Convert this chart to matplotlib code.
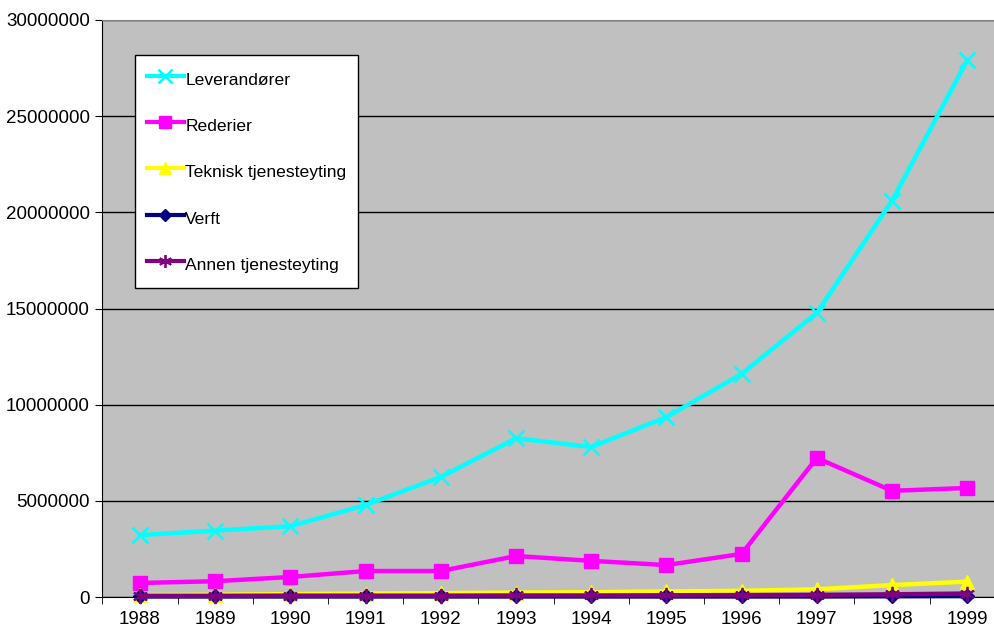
import matplotlib.pyplot as plt
from matplotlib.ticker import FixedLocator, NullFormatter
from matplotlib.lines import Line2D

plt.rcParams['font.family'] = ['Liberation Sans', 'DejaVu Sans']

years = [1988, 1989, 1990, 1991, 1992, 1993, 1994, 1995, 1996, 1997, 1998, 1999]

leverandorer = [3220000, 3450000, 3680000, 4780000, 6240000, 8250000,
                7800000, 9350000, 11600000, 14770000, 20600000, 27900000]
rederier = [730000, 820000, 1040000, 1350000, 1350000, 2130000,
            1880000, 1660000, 2240000, 7230000, 5520000, 5670000]
teknisk = [100000, 120000, 150000, 180000, 200000, 230000,
           250000, 290000, 320000, 400000, 620000, 800000]
verft = [30000, 30000, 30000, 30000, 30000, 30000,
         30000, 30000, 30000, 30000, 40000, 50000]
annen = [60000, 60000, 70000, 70000, 70000, 80000,
         80000, 90000, 100000, 110000, 140000, 180000]

series = [
    ("Leverandører", leverandorer, "#00FFFF", "x", 12, 1.8),
    ("Rederier", rederier, "#FF00FF", "s", 10, 1.0),
    ("Teknisk tjenesteyting", teknisk, "#FFFF00", "^", 10, 1.0),
    ("Verft", verft, "#000080", "D", 7, 1.0),
    ("Annen tjenesteyting", annen, "#800080", (6, 2, 0), 11, 1.3),
]

fig = plt.figure(figsize=(9.95, 6.32), dpi=100)
ax = fig.add_axes([102.4 / 995, 35 / 632, 902.4 / 995, 577 / 632])
ax.set_facecolor("#C0C0C0")

x = list(range(len(years)))
handles = []
for name, vals, color, marker, ms, mew in series:
    ax.plot(x, vals, color=color, lw=3.2, marker=marker, ms=ms,
            mec=color, mfc=color, mew=mew, clip_on=False, zorder=3)
    handles.append(Line2D([0], [0], color=color, lw=3.0, marker=marker,
                          ms=ms * 0.85, mec=color, mfc=color, mew=mew))

ax.set_xlim(-0.5, len(years) - 0.5)
ax.set_ylim(0, 30000000)
ax.set_yticks(range(0, 30000001, 5000000))
ax.set_yticklabels([str(v) for v in range(0, 30000001, 5000000)])
ax.yaxis.grid(True, color="black", lw=1)
ax.set_axisbelow(True)

ax.set_xticks(x)
ax.set_xticklabels([str(y) for y in years])
ax.xaxis.set_minor_locator(FixedLocator([i - 0.5 for i in range(len(years) + 1)]))
ax.xaxis.set_minor_formatter(NullFormatter())
ax.tick_params(axis="x", which="major", length=0, pad=10, labelsize=13.5)
ax.tick_params(axis="x", which="minor", length=5, direction="out", color="black")
ax.tick_params(axis="y", length=5, direction="out", labelsize=13.5, pad=4)

ax.spines["top"].set_color("#808080")
ax.spines["right"].set_visible(False)
ax.spines["left"].set_color("black")
ax.spines["bottom"].set_color("black")

leg = ax.legend(handles, [s[0] for s in series], loc="upper left",
                bbox_to_anchor=(33 / 902.4, 1 - 35 / 577), fontsize=12.6,
                frameon=True, fancybox=False, edgecolor="black",
                labelspacing=1.2, handlelength=2.1, handleheight=1.85,
                handletextpad=0.1, borderpad=0.65, borderaxespad=0)
leg.get_frame().set_linewidth(1.0)
leg.get_frame().set_facecolor("white")
leg.get_frame().set_alpha(1)

fig.savefig("out.png", dpi=100)
